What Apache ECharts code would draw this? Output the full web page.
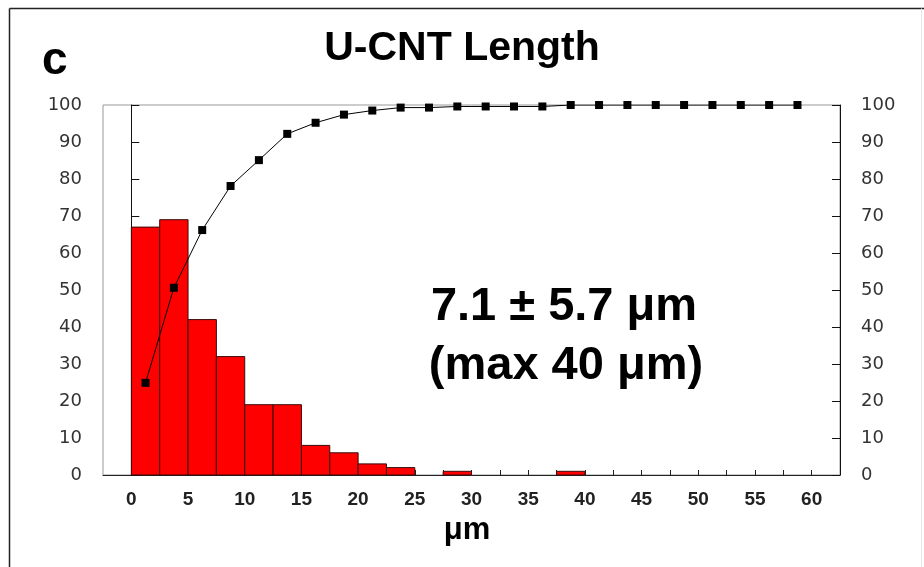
<!DOCTYPE html>
<html>
<head>
<meta charset="utf-8">
<script src="https://cdn.jsdelivr.net/npm/echarts@6/dist/echarts.min.js"></script>
<style>
  html, body { margin: 0; padding: 0; background: #ffffff; }
  #chart { width: 924px; height: 567px; }
</style>
</head>
<body>
<div id="chart"></div>
<script>
// Length histogram of U-CNT (2.5 µm bins) with cumulative percentage curve.
const binWidth = 2.5;
const binStart = [0, 2.5, 5, 7.5, 10, 12.5, 15, 17.5, 20, 22.5, 25, 27.5,
                  30, 32.5, 35, 37.5, 40, 42.5, 45, 47.5, 50, 52.5, 55, 57.5];
const counts = [67, 69, 42, 32, 19, 19, 8, 6, 3, 2, 0, 1,
                0, 0, 0, 1, 0, 0, 0, 0, 0, 0, 0, 0];
const cumulativePct = [24.9, 50.6, 66.2, 78.1, 85.1, 92.2, 95.2, 97.4, 98.5, 99.3, 99.3, 99.6,
                       99.6, 99.6, 99.6, 100, 100, 100, 100, 100, 100, 100, 100, 100];
const xTickLabels = [0, 5, 10, 15, 20, 25, 30, 35, 40, 45, 50, 55, 60];
const yTickLabels = [0, 10, 20, 30, 40, 50, 60, 70, 80, 90, 100];

const barData = binStart.map((s, i) => [s, s + binWidth, counts[i]]);
const lineData = binStart.map((s, i) => [s + binWidth / 2, cumulativePct[i]]);
const xTicks = binStart.concat([binStart[binStart.length - 1] + binWidth]);

const chart = echarts.init(document.getElementById('chart'), null, { renderer: 'canvas' });

const yAxisCommon = {
  type: 'value',
  min: yTickLabels[0],
  max: yTickLabels[yTickLabels.length - 1],
  interval: 10,
  splitLine: { show: false },
  axisLine: { show: true, lineStyle: { color: '#111', width: 1 } },
  axisTick: { show: true, inside: true, length: 8, lineStyle: { color: '#111' } },
  axisLabel: { color: '#333', fontFamily: 'DejaVu Sans', fontSize: 18, margin: 21 }
};

chart.setOption({
  animation: false,
  backgroundColor: '#ffffff',
  grid: {
    left: 103, right: 84, top: 105, bottom: 92,
    show: true, borderColor: '#999', borderWidth: 1, backgroundColor: 'transparent'
  },
  xAxis: {
    type: 'value',
    min: -2.5,
    max: 62.5,
    splitLine: { show: false },
    axisLine: { show: true, onZero: false, lineStyle: { color: '#222', width: 1 } },
    axisTick: { show: true, inside: true, length: 5, customValues: xTicks, lineStyle: { color: '#222' } },
    axisLabel: {
      customValues: xTickLabels,
      color: '#222', fontFamily: 'Liberation Sans', fontWeight: 'bold', fontSize: 19, margin: 15
    }
  },
  yAxis: [
    Object.assign({}, yAxisCommon, { position: 'left' }),
    Object.assign({}, yAxisCommon, { position: 'right' })
  ],
  series: [
    {
      type: 'custom',
      name: 'count',
      xAxisIndex: 0,
      yAxisIndex: 0,
      data: barData,
      encode: { x: [0, 1], y: 2 },
      renderItem: function (params, api) {
        const v = api.value(2);
        if (!v) return null;
        const p0 = api.coord([api.value(0), 0]);
        const p1 = api.coord([api.value(1), v]);
        return {
          type: 'rect',
          shape: { x: p0[0], y: p1[1], width: p1[0] - p0[0], height: p0[1] - p1[1] },
          style: { fill: '#ff0000', stroke: '#3a0a0a', lineWidth: 1 }
        };
      }
    },
    {
      type: 'line',
      name: 'cumulative',
      yAxisIndex: 1,
      data: lineData,
      symbol: 'rect',
      symbolSize: 8,
      itemStyle: { color: '#000' },
      lineStyle: { color: '#000', width: 1 },
      z: 5
    }
  ],
  graphic: [
    // outer frame
    { type: 'line', shape: { x1: 9.5, y1: 8.5, x2: 924, y2: 8.5 }, style: { stroke: '#222', lineWidth: 1.5 } },
    { type: 'line', shape: { x1: 9.5, y1: 8.5, x2: 9.5, y2: 567 }, style: { stroke: '#222', lineWidth: 1.5 } },
    { type: 'line', shape: { x1: 921.5, y1: 8.5, x2: 921.5, y2: 567 }, style: { stroke: '#e6e6e6', lineWidth: 1 } },
    {
      type: 'text', left: 42, top: 38,
      style: { text: 'c', fontFamily: 'Liberation Sans', fontWeight: 'bold', fontSize: 46, fill: '#000' }
    },
    {
      type: 'text', x: 462, y: 49,
      style: { text: 'U-CNT Length', fontFamily: 'Liberation Sans', fontWeight: 'bold', fontSize: 41,
               fill: '#000', align: 'center', verticalAlign: 'middle' }
    },
    {
      type: 'text', x: 564, y: 307,
      style: { text: '7.1 ± 5.7 μm', fontFamily: 'Liberation Sans', fontWeight: 'bold', fontSize: 47,
               fill: '#000', align: 'center', verticalAlign: 'middle' }
    },
    {
      type: 'text', x: 566, y: 366,
      style: { text: '(max 40 μm)', fontFamily: 'Liberation Sans', fontWeight: 'bold', fontSize: 47,
               fill: '#000', align: 'center', verticalAlign: 'middle' }
    },
    {
      type: 'text', x: 467, y: 530,
      style: { text: 'μm', fontFamily: 'Liberation Sans', fontWeight: 'bold', fontSize: 31,
               fill: '#000', align: 'center', verticalAlign: 'middle' }
    }
  ]
});
</script>
</body>
</html>
